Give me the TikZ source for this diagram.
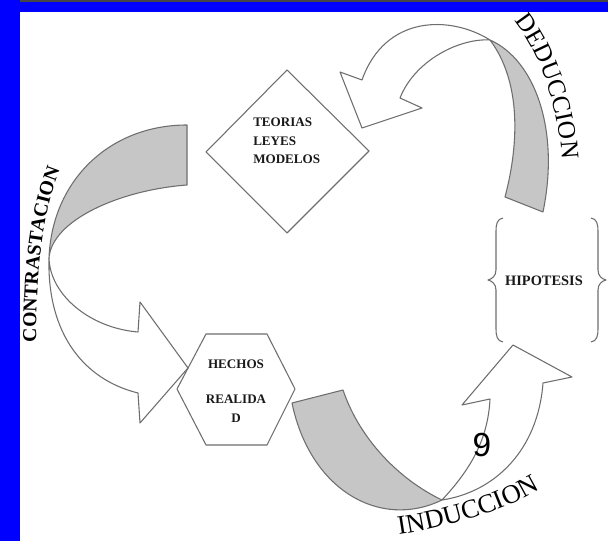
\documentclass[tikz,border=0pt]{standalone}
\usepackage{fontspec}
\setmainfont{Liberation Serif}
\setsansfont{Liberation Sans}
\usetikzlibrary{decorations.text}

\tikzset{
  contorno/.style={draw={rgb, 255:red, 110; green, 110; blue, 110}, line width=0.8pt, line join=round},
  sombra/.style={contorno, fill={rgb, 255:red, 198; green, 198; blue, 198}},
  caja/.style={inner sep=0.75pt, text={rgb, 255:red, 25; green, 25; blue, 25}, font=\bfseries\fontsize{9.8}{13.9}\selectfont},
  rotulo/.style={decorate, text={rgb, 255:red, 15; green, 15; blue, 15}}
}

\begin{document}
\begin{tikzpicture}[x=0.75pt,y=-0.75pt]
\useasboundingbox (0,0) rectangle (608,541);
\fill [white] (0,0) rectangle (608,541);
% marco azul
\fill [color={rgb, 255:red, 0; green, 0; blue, 255}] (0,0) rectangle (20,541);
\fill [color={rgb, 255:red, 0; green, 0; blue, 255}] (0,2) rectangle (608,12);
\fill [color={rgb, 255:red, 70; green, 70; blue, 70}] (20,0) rectangle (608,2);

% cajas
\draw [contorno] (287,70) -- (369,151) -- (287,233) -- (206,152) -- cycle;
\draw [contorno] (206,334) -- (267,334) -- (295,389) -- (267,445) -- (206,445) -- (177,389) -- cycle;
\draw [contorno] (503,218) .. controls (497,219) and (496,224) .. (496,232) -- (496,270) .. controls (496,276) and (492,279) .. (488,280) .. controls (492,281) and (496,284) .. (496,290) -- (496,328) .. controls (496,336) and (497,341) .. (503,342);
\draw [contorno] (591,218) .. controls (597,219) and (598,224) .. (598,232) -- (598,270) .. controls (598,276) and (602,279) .. (606,280) .. controls (602,281) and (598,284) .. (598,290) -- (598,328) .. controls (598,336) and (597,341) .. (591,342);

% deduccion
\draw [sombra] (490,40) .. controls (535,60) and (560,130) .. (543,212) -- (505,197) .. controls (520,140) and (520,80) .. (490,40) -- cycle;
\draw [contorno] (490,40) .. controls (450,15) and (385,15) .. (362,80) -- (340,72) -- (362,128) -- (422,108) -- (400,98) .. controls (415,60) and (460,38) .. (490,40);
% contrastacion
\draw [sombra] (187,125) .. controls (110,125) and (52,180) .. (49,258) .. controls (52,220) and (120,190) .. (187,185) -- cycle;
\draw [contorno] (49,258) .. controls (47,335) and (85,380) .. (138,393) -- (140,423) -- (188,368) -- (140,302) -- (138,332) .. controls (90,328) and (50,295) .. (49,258);
% induccion
\draw [sombra] (292,403) .. controls (310,490) and (380,530) .. (442,500) .. controls (400,480) and (360,440) .. (343,390) -- cycle;
\draw [contorno] (442,500) .. controls (495,492) and (538,450) .. (543,383) -- (572,377) -- (513,345) -- (462,405) -- (490,399) .. controls (488,440) and (470,470) .. (442,500);

% textos
\draw (252,141) node (teorias) [caja, anchor=west, align=left] {TEORIAS\\LEYES\\MODELOS};
\draw (236,391) node (hechos) [caja, align=center] {HECHOS\\[13pt]REALIDA\\D};
\draw (544,281) node (hipotesis) [caja, font=\bfseries\fontsize{10.8}{12}\selectfont] {HIPOTESIS};
\draw (482,445) node (numero) [inner sep=0pt, font=\sffamily\fontsize{25}{25}\selectfont] {9};
\path [rotulo, decoration={text along path, text align=center, text={|\fontsize{19}{19}\selectfont|DEDUCCION}}] (508,14) .. controls (538,45) and (562,110) .. (562,168);
\path [rotulo, decoration={text along path, text align=center, text={|\bfseries\fontsize{14.8}{16}\selectfont|CONTRASTACION}}] (36,350) .. controls (36,270) and (42,210) .. (63,162);
\path [rotulo, decoration={text along path, text align=center, text={|\fontsize{20}{20}\selectfont|INDUCCION}}] (390,536) .. controls (430,531) and (500,516) .. (548,484);
\end{tikzpicture}
\end{document}
